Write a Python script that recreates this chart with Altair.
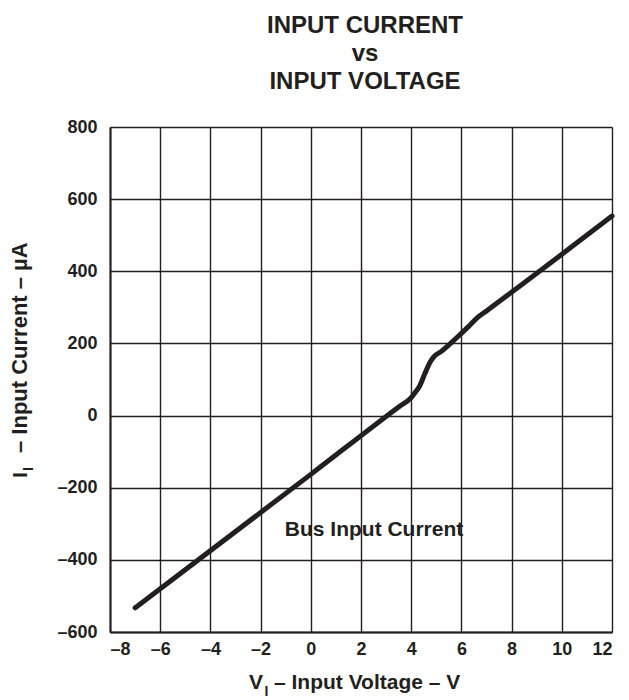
import altair as alt
import pandas as pd

# Curve data
volts = [-7.0, 0.0, 3.5, 4.0, 4.15, 4.35, 4.55, 4.75, 4.9, 5.2, 5.6, 6.0, 6.3, 6.65, 7.0, 12.0]
current = [-533, -163, 24, 50, 63, 84, 117, 148, 163, 178, 202, 228, 248, 272, 290, 553]

x_ticks = [-8, -6, -4, -2, 0, 2, 4, 6, 8, 10, 12]
y_ticks = [-600, -400, -200, 0, 200, 400, 600, 800]

label_text = ["Bus Input Current"]
label_v = [2.52]
label_i = [-318]

title_lines = ["INPUT CURRENT", "vs", "INPUT VOLTAGE"]

INK = "#231f20"
FONT = "Liberation Sans"

df = pd.DataFrame({"V": volts, "I": current})
lab = pd.DataFrame({"t": label_text, "V": label_v, "I": label_i})

xs = alt.Scale(domain=[-8, 12], nice=False, zero=False)
ys = alt.Scale(domain=[-600, 800], nice=False, zero=False)

x_axis = alt.Axis(values=x_ticks, title=None, grid=True, gridColor=INK, gridWidth=1.4,
                  gridOpacity=1, ticks=False, domainColor=INK, domainWidth=2,
                  labelFont=FONT, labelFontSize=18, labelFontWeight="bold", labelColor=INK,
                  labelPadding=8, labelExpr="replace(datum.label, /[−-]/, '–')")
y_axis = alt.Axis(values=y_ticks, title=None, grid=True, gridColor=INK, gridWidth=1.4,
                  gridOpacity=1, ticks=False, domainColor=INK, domainWidth=2,
                  labelFont=FONT, labelFontSize=18, labelFontWeight="bold", labelColor=INK,
                  labelPadding=13, labelExpr="replace(datum.label, /[−-]/, '–')")

line = alt.Chart(df).mark_line(color=INK, strokeWidth=5, strokeCap="round",
                               interpolate="monotone").encode(
    x=alt.X("V:Q", scale=xs, axis=x_axis),
    y=alt.Y("I:Q", scale=ys, axis=y_axis),
)

bus = alt.Chart(lab).mark_text(font=FONT, fontSize=21, fontWeight="bold", color=INK,
                               align="center", baseline="middle").encode(
    x=alt.X("V:Q", scale=xs), y=alt.Y("I:Q", scale=ys), text="t:N")

one = pd.DataFrame({"a": [0]})
def txt(s, x, y, size=21, align="left", angle=0):
    return alt.Chart(one).mark_text(text=s, font=FONT, fontSize=size, fontWeight="bold",
                                    color=INK, align=align, baseline="alphabetic",
                                    angle=angle).encode(x=alt.value(x), y=alt.value(y))

xt1 = txt("V", 153, 562, align="right")
xt2 = txt("I", 154.5, 569, size=14)
xt3 = txt("– Input Voltage – V", 164, 562)
yt1 = txt("I", -83, 351, angle=270)
yt2 = txt("I", -77, 344, size=14, angle=270)
yt3 = txt("– Input Current – µA", -83, 326, size=22, angle=270)

chart = alt.layer(line, bus, xt1, xt2, xt3, yt1, yt2, yt3).properties(
    width=502, height=505,
    title=alt.Title(title_lines, font=FONT, fontSize=24, fontWeight="bold", color=INK,
                    lineHeight=28, anchor="middle", dx=4, offset=24),
    autosize=alt.AutoSizeParams(type="none"),
    padding={"left": 102, "top": 119, "right": 9, "bottom": 68},
).configure_view(stroke=None).configure(background="white")

chart.save("out.html", embed_options={"renderer": "svg", "actions": False})
